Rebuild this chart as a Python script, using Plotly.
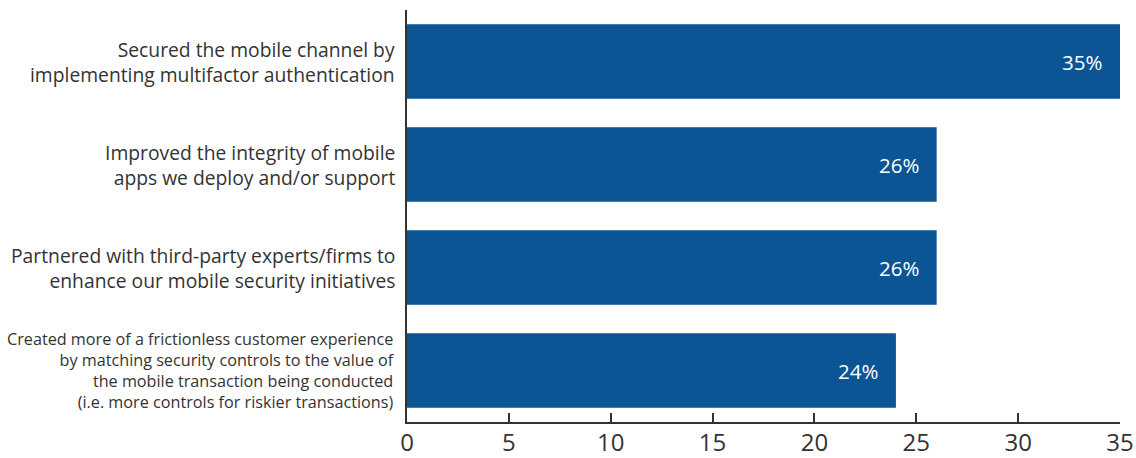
import plotly.graph_objects as go

# Survey responses: share of respondents (%) for each mobile security action
categories = [
    "Secured the mobile channel by<br>implementing multifactor authentication",
    "Improved the integrity of mobile<br>apps we deploy and/or support",
    "Partnered with third-party experts/firms to<br>enhance our mobile security initiatives",
    "Created more of a frictionless customer experience<br>by matching security controls to the value of<br>the mobile transaction being conducted<br>(i.e. more controls for riskier transactions)",
]
values = [35, 26, 26, 24]
label_sizes = [19.3, 19.3, 19.3, 16.2]
x_ticks = [0, 5, 10, 15, 20, 25, 30, 35]

BAR = "#0B5595"
INK = "#333333"
FONT = "Open Sans"

fig = go.Figure(
    go.Bar(
        x=values,
        y=categories,
        orientation="h",
        marker=dict(color=BAR, line=dict(width=0)),
        hoverinfo="skip",
    )
)

# value labels inside the right end of each bar
for cat, v in zip(categories, values):
    fig.add_annotation(
        x=v, y=cat, xref="x", yref="y",
        text=f"{v}%", showarrow=False,
        xanchor="right", xshift=-16,
        font=dict(family=FONT, size=20.5, color="white"),
    )

# category labels to the left of the axis
for cat, s in zip(categories, label_sizes):
    fig.add_annotation(
        x=0, y=cat, xref="paper", yref="y",
        text=cat, showarrow=False,
        xanchor="right", align="right", xshift=-10,
        font=dict(family=FONT, size=s, color=INK),
    )

fig.update_layout(
    width=1136, height=458,
    margin=dict(l=407, r=16, t=10, b=36),
    paper_bgcolor="white", plot_bgcolor="white",
    bargap=0.275,
    showlegend=False,
    font=dict(family=FONT, color=INK),
)
fig.update_xaxes(
    range=[0, 35], tickvals=x_ticks,
    showgrid=False, zeroline=False, automargin=False,
    showline=True, linecolor=INK, linewidth=1.5,
    ticks="inside", ticklen=9, tickwidth=1.5, tickcolor=INK,
    ticklabelstandoff=-2,
    tickfont=dict(family=FONT, size=24, color=INK),
)
fig.update_yaxes(
    autorange="reversed", showticklabels=False,
    showgrid=False, zeroline=False, automargin=False,
    showline=True, linecolor=INK, linewidth=1.5,
    ticks="",
)

fig.write_html("out.html", config={"displayModeBar": False})
